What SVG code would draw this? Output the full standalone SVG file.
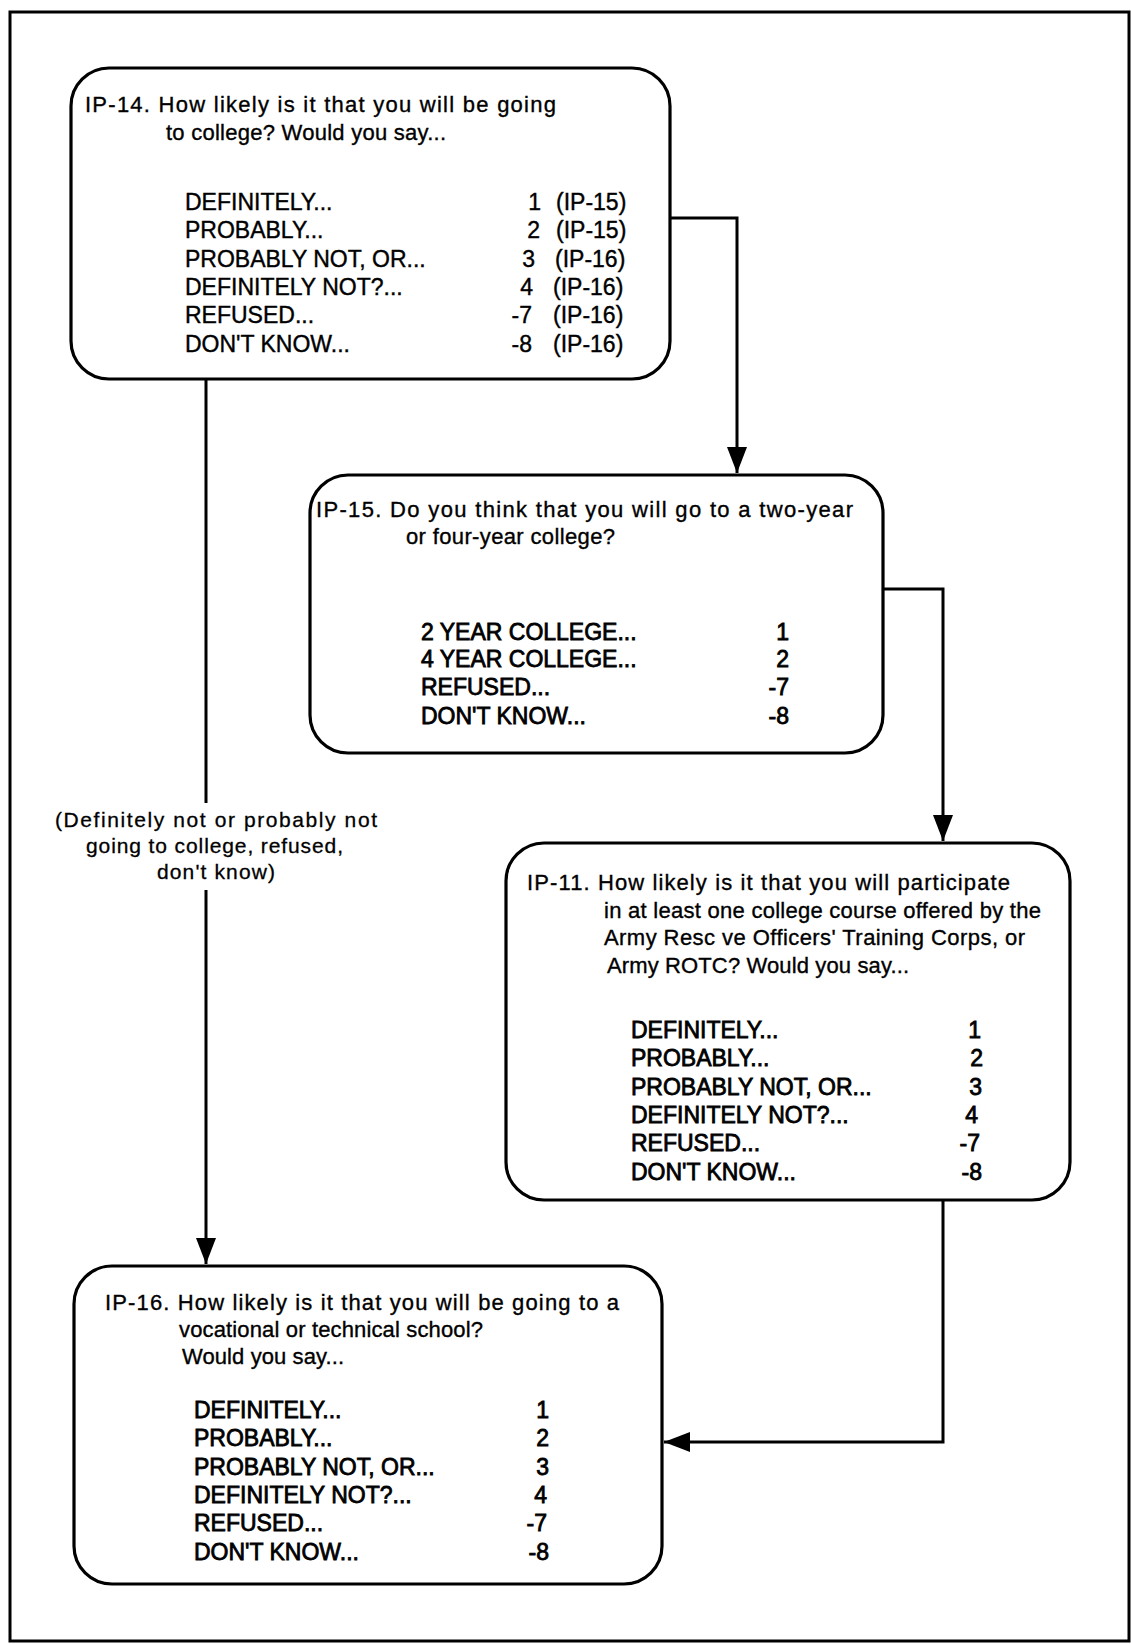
<svg xmlns="http://www.w3.org/2000/svg" width="1131" height="1644" viewBox="0 0 1131 1644">
<style>
.box{fill:#fff;stroke:#000;stroke-width:3.2}
.q{font-family:"Liberation Sans",Arial,sans-serif;font-size:22px;fill:#000;stroke:#000;stroke-width:0.35}
.o{font-family:"Liberation Sans",Arial,sans-serif;font-size:23px;fill:#000;stroke:#000;stroke-width:0.4}
.v{font-family:"Liberation Sans",Arial,sans-serif;font-size:23px;fill:#000;stroke:#000;stroke-width:0.4;text-anchor:end}
.p{font-family:"Liberation Sans",Arial,sans-serif;font-size:23px;fill:#000;stroke:#000;stroke-width:0.4}
.bold .o,.bold .v{stroke-width:0.8}
.c{fill:none;stroke:#000;stroke-width:3}
.lbl{font-family:"Liberation Sans",Arial,sans-serif;font-size:21px;fill:#000;stroke:#000;stroke-width:0.3}
</style>
<defs>
<marker id="ah" viewBox="0 0 26 20" refX="26" refY="10" markerWidth="26" markerHeight="20" markerUnits="userSpaceOnUse" orient="auto">
<path d="M0,0 L26,10 L0,20 z" fill="#000"/>
</marker>
</defs>
<rect x="0" y="0" width="1131" height="1644" fill="#fff"/>
<rect x="10" y="12" width="1119" height="1629" fill="none" stroke="#000" stroke-width="3"/>

<g id="connectors">
<path class="c" d="M670,218 H737 V473" marker-end="url(#ah)"/>
<path class="c" d="M883,589 H943 V841" marker-end="url(#ah)"/>
<path class="c" d="M943,1200 V1442 H664" marker-end="url(#ah)"/>
<path class="c" d="M206,379 V803"/>
<path class="c" d="M206,890 V1264" marker-end="url(#ah)"/>
<g id="connector-label">
<text class="lbl" x="55" y="827" textLength="322" lengthAdjust="spacing">(Definitely not or probably not</text>
<text class="lbl" x="86" y="853" textLength="257" lengthAdjust="spacing">going to college, refused,</text>
<text class="lbl" x="157" y="879" textLength="118" lengthAdjust="spacing">don't know)</text>
</g>
</g>

<g id="ip14">
<rect class="box" x="71" y="68" width="599" height="311" rx="38"/>
<text class="q" x="85" y="112" textLength="471" lengthAdjust="spacing">IP-14. How likely is it that you will be going</text>
<text class="q" x="166" y="140" textLength="280" lengthAdjust="spacing">to college? Would you say...</text>
<text class="o" x="185" y="210">DEFINITELY...</text>
<text class="o" x="185" y="238">PROBABLY...</text>
<text class="o" x="185" y="267">PROBABLY NOT, OR...</text>
<text class="o" x="185" y="295">DEFINITELY NOT?...</text>
<text class="o" x="185" y="323">REFUSED...</text>
<text class="o" x="185" y="352">DON'T KNOW...</text>
<text class="v" x="541" y="210">1</text>
<text class="v" x="540" y="238">2</text>
<text class="v" x="535" y="267">3</text>
<text class="v" x="533" y="295">4</text>
<text class="v" x="532" y="323">-7</text>
<text class="v" x="532" y="352">-8</text>
<text class="p" x="556" y="210">(IP-15)</text>
<text class="p" x="556" y="238">(IP-15)</text>
<text class="p" x="555" y="267">(IP-16)</text>
<text class="p" x="553" y="295">(IP-16)</text>
<text class="p" x="553" y="323">(IP-16)</text>
<text class="p" x="553" y="352">(IP-16)</text>
</g>

<g id="ip15" class="bold">
<rect class="box" x="310" y="475" width="573" height="278" rx="38"/>
<text class="q" x="316" y="517" textLength="537" lengthAdjust="spacing">IP-15. Do you think that you will go to a two-year</text>
<text class="q" x="406" y="544" textLength="209" lengthAdjust="spacing">or four-year college?</text>
<text class="o" x="421" y="640">2 YEAR COLLEGE...</text>
<text class="o" x="421" y="667">4 YEAR COLLEGE...</text>
<text class="o" x="421" y="695">REFUSED...</text>
<text class="o" x="421" y="724">DON'T KNOW...</text>
<text class="v" x="789" y="640">1</text>
<text class="v" x="789" y="667">2</text>
<text class="v" x="789" y="695">-7</text>
<text class="v" x="789" y="724">-8</text>
</g>

<g id="ip11" class="bold">
<rect class="box" x="506" y="843" width="564" height="357" rx="38"/>
<text class="q" x="527" y="890" textLength="483" lengthAdjust="spacing">IP-11. How likely is it that you will participate</text>
<text class="q" x="604" y="918" textLength="437" lengthAdjust="spacing">in at least one college course offered by the</text>
<text class="q" x="604" y="945" textLength="421" lengthAdjust="spacing">Army Resc ve Officers' Training Corps, or</text>
<text class="q" x="607" y="973" textLength="302" lengthAdjust="spacing">Army ROTC? Would you say...</text>
<text class="o" x="631" y="1038">DEFINITELY...</text>
<text class="o" x="631" y="1066">PROBABLY...</text>
<text class="o" x="631" y="1095">PROBABLY NOT, OR...</text>
<text class="o" x="631" y="1123">DEFINITELY NOT?...</text>
<text class="o" x="631" y="1151">REFUSED...</text>
<text class="o" x="631" y="1180">DON'T KNOW...</text>
<text class="v" x="981" y="1038">1</text>
<text class="v" x="983" y="1066">2</text>
<text class="v" x="982" y="1095">3</text>
<text class="v" x="978" y="1123">4</text>
<text class="v" x="980" y="1151">-7</text>
<text class="v" x="982" y="1180">-8</text>
</g>

<g id="ip16" class="bold">
<rect class="box" x="74" y="1266" width="588" height="318" rx="38"/>
<text class="q" x="105" y="1310" textLength="514" lengthAdjust="spacing">IP-16. How likely is it that you will be going to a</text>
<text class="q" x="179" y="1337" textLength="304" lengthAdjust="spacing">vocational or technical school?</text>
<text class="q" x="182" y="1364" textLength="162" lengthAdjust="spacing">Would you say...</text>
<text class="o" x="194" y="1418">DEFINITELY...</text>
<text class="o" x="194" y="1446">PROBABLY...</text>
<text class="o" x="194" y="1475">PROBABLY NOT, OR...</text>
<text class="o" x="194" y="1503">DEFINITELY NOT?...</text>
<text class="o" x="194" y="1531">REFUSED...</text>
<text class="o" x="194" y="1560">DON'T KNOW...</text>
<text class="v" x="549" y="1418">1</text>
<text class="v" x="549" y="1446">2</text>
<text class="v" x="549" y="1475">3</text>
<text class="v" x="547" y="1503">4</text>
<text class="v" x="547" y="1531">-7</text>
<text class="v" x="549" y="1560">-8</text>
</g>
</svg>
